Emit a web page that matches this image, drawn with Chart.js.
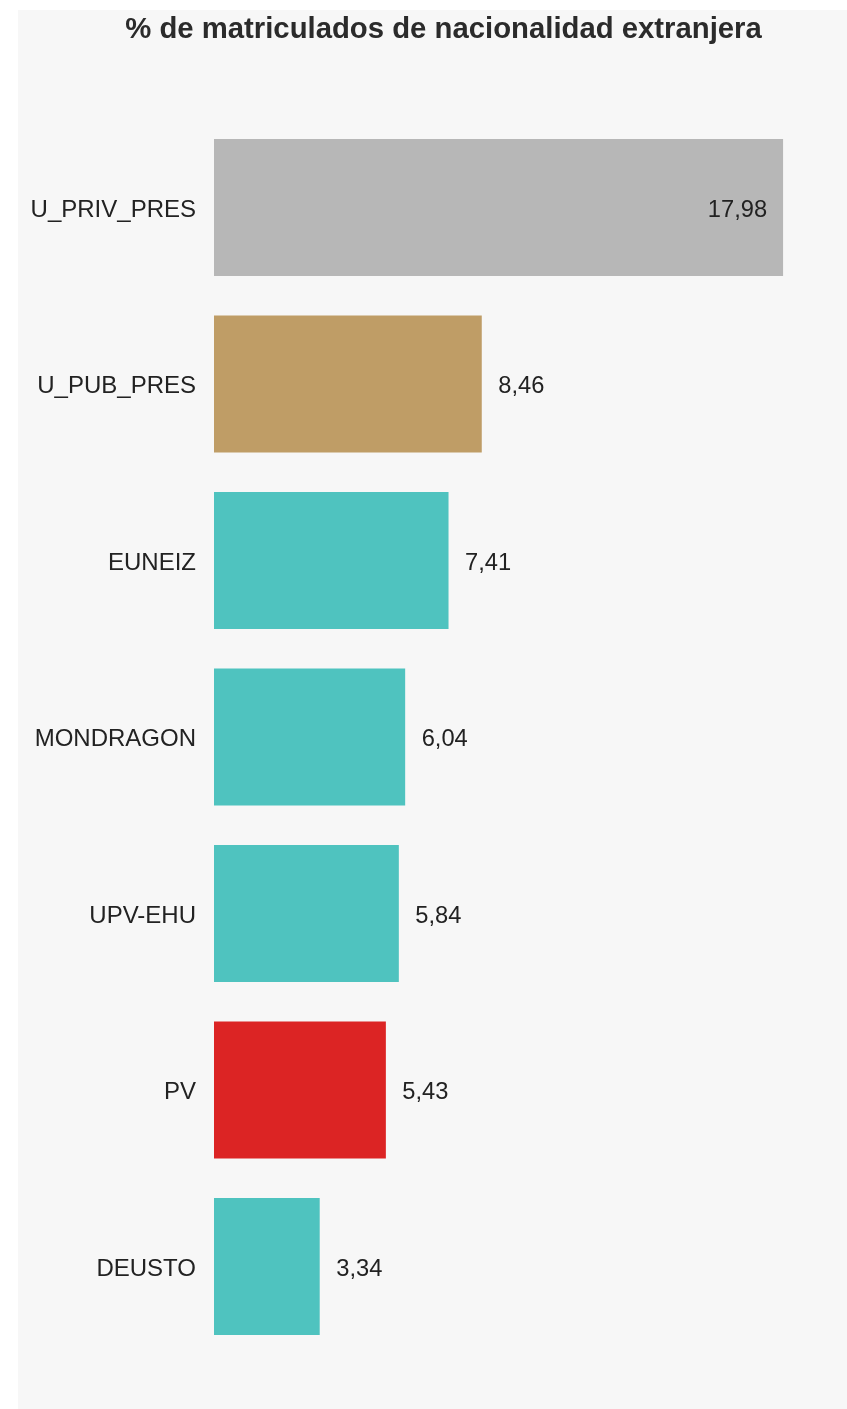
<!DOCTYPE html>
<html>
<head>
<meta charset="utf-8">
<script src="https://cdn.jsdelivr.net/npm/chart.js@4/dist/chart.umd.min.js"></script>
<style>
  html, body { margin: 0; padding: 0; background: #ffffff; }
  canvas { display: block; }
</style>
</head>
<body>
<canvas id="c" width="847" height="1409"></canvas>
<script>
const categories = ['U_PRIV_PRES', 'U_PUB_PRES', 'EUNEIZ', 'MONDRAGON', 'UPV-EHU', 'PV', 'DEUSTO'];
const values = [17.98, 8.46, 7.41, 6.04, 5.84, 5.43, 3.34];
const barColors = ['#b7b7b7', '#bf9d66', '#4fc3bf', '#4fc3bf', '#4fc3bf', '#dc2424', '#4fc3bf'];
const titleText = '% de matriculados de nacionalidad extranjera';
const xMin = 0;
const xMax = 20;

const FONT = '"Liberation Sans", Arial, Helvetica, sans-serif';

const panelBg = {
  id: 'panelBg',
  beforeDraw(chart) {
    const ctx = chart.ctx;
    ctx.save();
    ctx.fillStyle = '#f7f7f7';
    ctx.fillRect(18, 10, chart.width - 18, chart.height - 10);
    ctx.restore();
  }
};

const titleDraw = {
  id: 'titleDraw',
  afterDraw(chart) {
    const ctx = chart.ctx;
    ctx.save();
    ctx.font = 'bold 29.3px ' + FONT;
    ctx.fillStyle = '#2b2b2b';
    ctx.textAlign = 'center';
    ctx.textBaseline = 'middle';
    ctx.fillText(titleText, 443.5, 29.5);
    ctx.restore();
  }
};

const valueLabels = {
  id: 'valueLabels',
  afterDatasetsDraw(chart) {
    const ctx = chart.ctx;
    const meta = chart.getDatasetMeta(0);
    const area = chart.chartArea;
    ctx.save();
    ctx.font = '23.7px ' + FONT;
    ctx.fillStyle = '#222222';
    ctx.textBaseline = 'middle';
    meta.data.forEach((bar, i) => {
      const txt = values[i].toFixed(2).replace('.', ',');
      const w = ctx.measureText(txt).width;
      if (bar.x + 16 + w > area.right) {
        ctx.textAlign = 'right';
        ctx.fillText(txt, bar.x - 16, bar.y + 2.5);
      } else {
        ctx.textAlign = 'left';
        ctx.fillText(txt, bar.x + 16.5, bar.y + 2.5);
      }
    });
    ctx.restore();
  }
};

new Chart(document.getElementById('c'), {
  type: 'bar',
  data: {
    labels: categories,
    datasets: [{
      data: values,
      backgroundColor: barColors,
      borderWidth: 0,
      barPercentage: 0.776,
      categoryPercentage: 1.0
    }]
  },
  options: {
    indexAxis: 'y',
    responsive: false,
    animation: false,
    layout: { padding: { left: 0, right: 0, top: 119.25, bottom: 54.25 } },
    plugins: {
      legend: { display: false },
      tooltip: { enabled: false },
      title: { display: false }
    },
    scales: {
      x: {
        display: false,
        min: xMin,
        max: xMax
      },
      y: {
        grid: { display: false, drawTicks: false },
        border: { display: false },
        ticks: {
          color: '#222222',
          padding: 18,
          labelOffset: 2.5,
          font: { family: FONT, size: 24 }
        },
        afterFit(scale) { scale.width = 214; }
      }
    }
  },
  plugins: [panelBg, valueLabels, titleDraw]
});
</script>
</body>
</html>
